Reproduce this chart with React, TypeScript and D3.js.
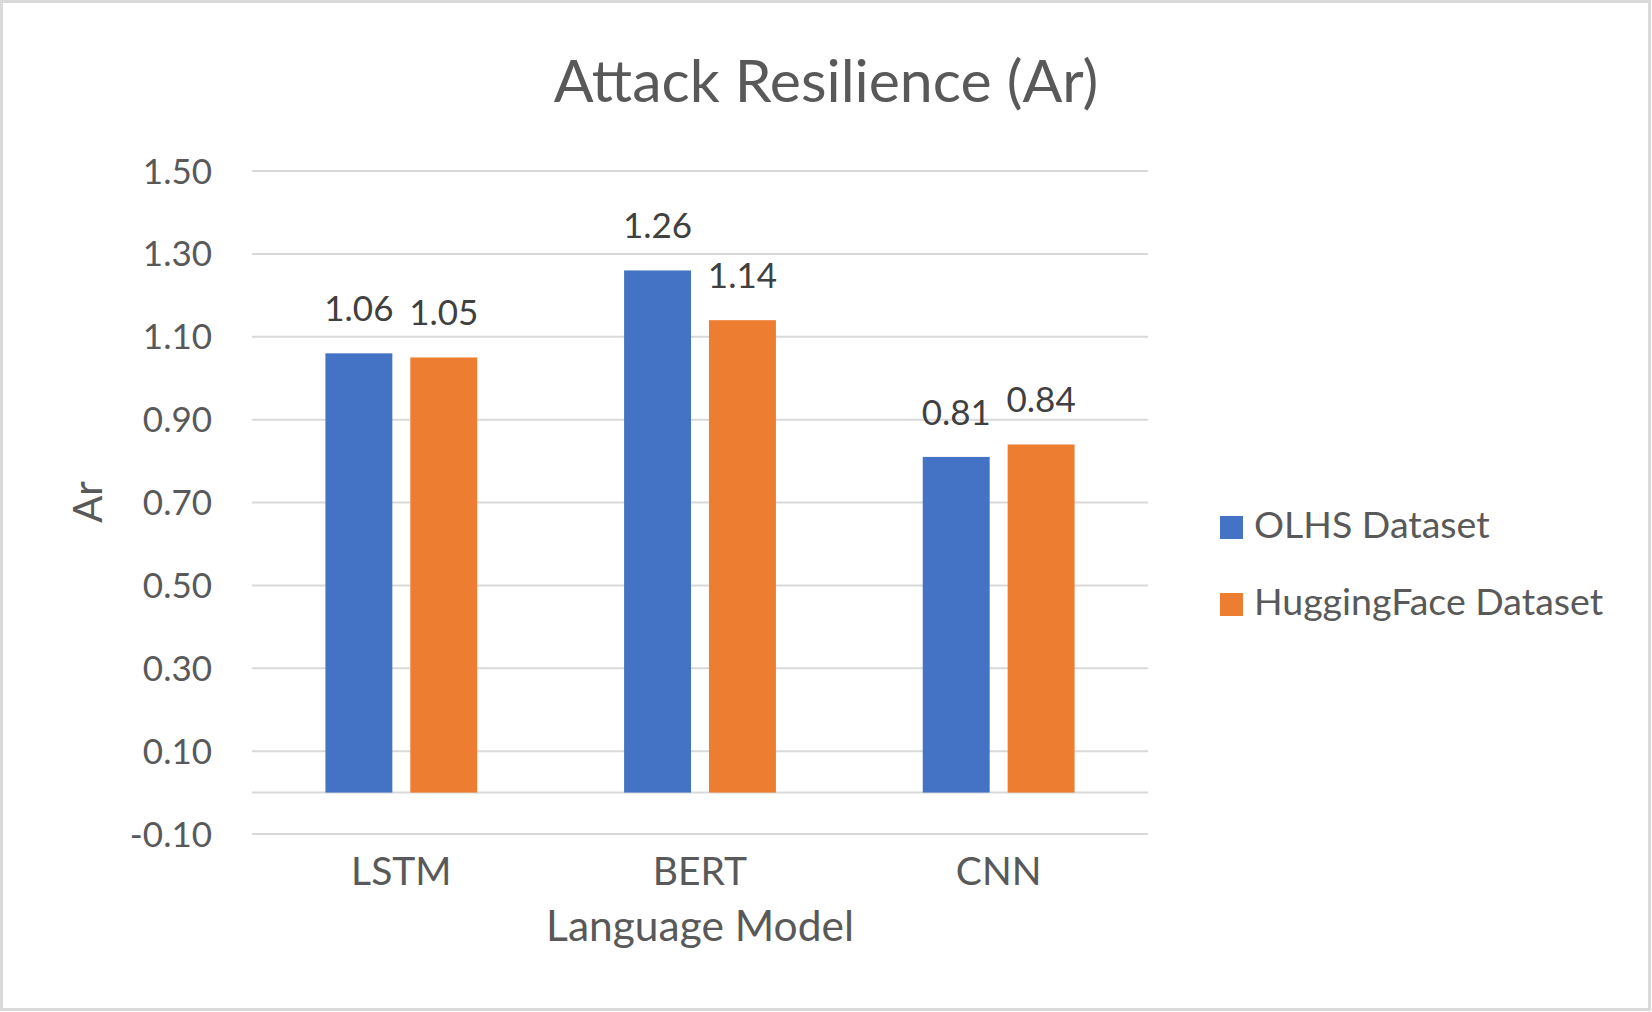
import { scaleBand, scaleLinear, format } from 'd3'

const CATEGORIES = ['LSTM', 'BERT', 'CNN']
const SERIES = ['OLHS Dataset', 'HuggingFace Dataset']
const OLHS_VALUES = [1.06, 1.26, 0.81]
const HUGGINGFACE_VALUES = [1.05, 1.14, 0.84]
const Y_TICKS = [-0.1, 0.1, 0.3, 0.5, 0.7, 0.9, 1.1, 1.3, 1.5]
const COLORS = ['#4472C4', '#ED7D31']

const TITLE = 'Attack Resilience (Ar)'
const X_LABEL = 'Language Model'
const Y_LABEL = 'Ar'

export default function App(): JSX.Element {
  const width = 1652
  const height = 1012
  const plot = { left: 252, right: 1148, top: 171, bottom: 834 }
  const font = 'Lato, "Open Sans", sans-serif'
  const textColor = '#595959'
  const gridColor = '#D9D9D9'

  const seriesValues = [OLHS_VALUES, HUGGINGFACE_VALUES]

  // outer band: one group per model, group is ~152px wide out of ~299px step
  const groupPad = 1 - 152 / 299
  const xScale = scaleBand()
    .domain(CATEGORIES)
    .range([plot.left, plot.right])
    .paddingInner(groupPad)
    .paddingOuter(groupPad / 2)

  const xInner = scaleBand()
    .domain(SERIES)
    .range([0, xScale.bandwidth()])
    .paddingInner(0.2118)

  const yScale = scaleLinear().domain([-0.1, 1.5]).range([plot.bottom, plot.top])
  // excel shows a plain hyphen, d3 gives a unicode minus
  const fmt = (v: number) => format('.2f')(v).replace('\u2212', '-')

  return (
    <svg
      width={width}
      height={height}
      style={{ position: 'absolute', left: 0, top: 0, background: '#fff' }}
      fontFamily={font}
    >
      <rect x={1.5} y={1.5} width={width - 4} height={height - 4} fill='#fff' stroke={gridColor} strokeWidth={3} />

      {/* Title */}
      <text x={826} y={102} textAnchor='middle' fontSize={59} fill={textColor}>
        {TITLE}
      </text>

      {/* Gridlines + y ticks */}
      {Y_TICKS.map((t, i) => (
        <g key={i} transform={`translate(0, ${yScale(t)})`}>
          <line x1={plot.left} x2={plot.right} stroke={gridColor} strokeWidth={2} />
          <text x={plot.left - 40} dy='0.36em' textAnchor='end' fontSize={35} fill={textColor}>
            {fmt(t)}
          </text>
        </g>
      ))}

      {/* Category axis line at zero */}
      <line x1={plot.left} x2={plot.right} y1={yScale(0)} y2={yScale(0)} stroke={gridColor} strokeWidth={2} />

      {/* Bars */}
      {CATEGORIES.map((c, ci) => (
        <g key={c} transform={`translate(${xScale(c)}, 0)`}>
          {SERIES.map((s, si) => {
            const v = seriesValues[si][ci]
            const bx = xInner(s)!
            const bw = xInner.bandwidth()
            return (
              <g key={s}>
                <rect
                  x={bx}
                  y={yScale(v)}
                  width={bw}
                  height={yScale(0) - yScale(v)}
                  fill={COLORS[si]}
                />
                <text
                  x={bx + bw / 2}
                  y={yScale(v) - 32}
                  textAnchor='middle'
                  fontSize={35}
                  fill='#404040'
                >
                  {fmt(v)}
                </text>
              </g>
            )
          })}
        </g>
      ))}

      {/* X ticks */}
      {CATEGORIES.map((c) => (
        <text
          key={c}
          x={xScale(c)! + xScale.bandwidth() / 2}
          y={885}
          textAnchor='middle'
          fontSize={39}
          fill={textColor}
        >
          {c}
        </text>
      ))}

      {/* Axis titles */}
      <text x={(plot.left + plot.right) / 2} y={941} textAnchor='middle' fontSize={42.5} fill={textColor}>
        {X_LABEL}
      </text>
      <text
        transform={`translate(102, 502) rotate(-90)`}
        textAnchor='middle'
        fontSize={40}
        fill={textColor}
      >
        {Y_LABEL}
      </text>

      {/* Legend */}
      {SERIES.map((s, i) => (
        <g key={s} transform={`translate(1220, ${516 + i * 77})`}>
          <rect width={23} height={23} fill={COLORS[i]} />
          <text x={34} y={22} fontSize={37.5} fill={textColor}>
            {s}
          </text>
        </g>
      ))}
    </svg>
  )
}
